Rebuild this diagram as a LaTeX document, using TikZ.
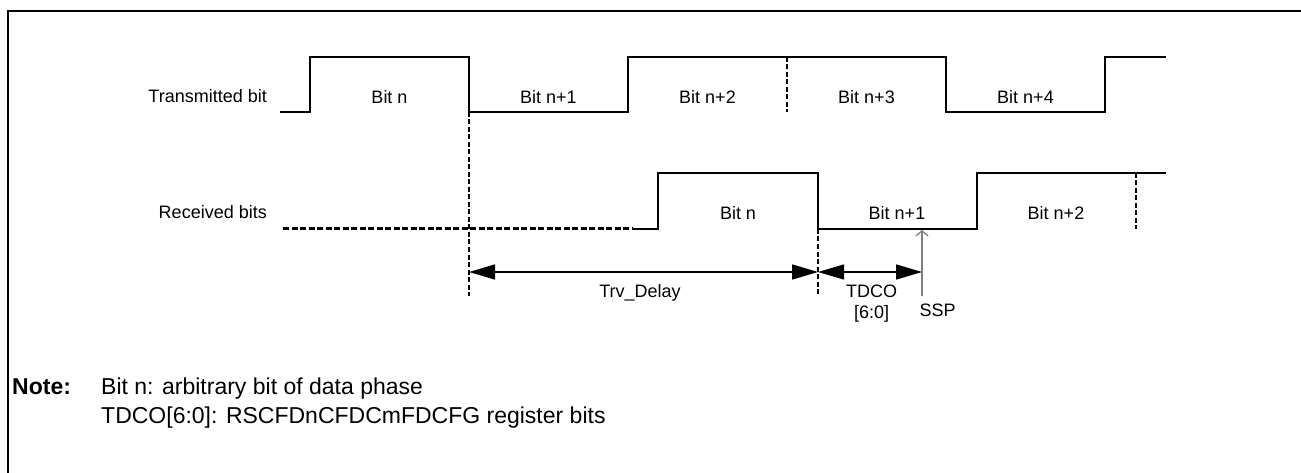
\documentclass[tikz,border=0pt]{standalone}
\usepackage{fontspec}
\setmainfont{Liberation Sans}
\usetikzlibrary{arrows.meta}
\begin{document}
\begin{tikzpicture}[x=1pt,y=-1pt,
  sig/.style={line width=2pt, line join=miter},
  dshv/.style={line width=1.8pt, dash pattern=on 5pt off 2.5pt},
  dshh/.style={line width=3pt, dash pattern=on 6pt off 2.5pt},
  lbl/.style={inner sep=0pt, font=\fontsize{18}{21}\selectfont, anchor=base},
  notetxt/.style={inner sep=0pt, font=\fontsize{23}{27}\selectfont, anchor=base west},
  dimarrow/.style={line width=1.5pt, {Triangle[length=26pt,width=15pt]}-{Triangle[length=26pt,width=15pt]}},
  ssparrow/.style={line width=1.3pt, draw=black!50, -{Straight Barb[length=5pt,width=12pt]}},
  frameline/.style={line width=2.7pt}]
\useasboundingbox (0,0) rectangle (1301,473);
% frame
\draw[frameline] (8,480) -- (8,11) -- (1310,11);
% key coordinates
\coordinate (tA) at (469,112);
\coordinate (tA2) at (469,296);
\coordinate (rB) at (818,229);
\coordinate (rB2) at (818,296);
\coordinate (dL) at (469,272);
\coordinate (dM) at (818,272);
\coordinate (dR) at (922,272);
\coordinate (sspBot) at (922,296);
\coordinate (sspTop) at (922,230);
% transmitted waveform
\draw[sig] (280,112) -| (310,57) -| (tA) -| (628,57) -| (946,112) -| (1105,57) -- (1166,57);
\draw[dshv] (787,57) -- (787,112);
% received waveform
\draw[dshh] (283,229) -- (633,229);
\draw[sig] (633,229) -| (658,173) -| (rB) -| (977,173) -- (1166,173);
\draw[dshv] (1136,173) -- (1136,229);
% vertical guides
\draw[dshv] (tA) -- (tA2);
\draw[dshv] (rB) -- (rB2);
% dimension arrows
\draw[dimarrow] (dL) -- (dM);
\draw[dimarrow] (dM) -- (dR);
\draw[ssparrow] (sspBot) -- (sspTop);
% row labels
\node[lbl, anchor=base east] (ltx) at (267,103) {Transmitted bit};
\node[lbl, anchor=base east] (lrx) at (267,218.5) {Received bits};
% transmitted bit labels
\node[lbl] (t0) at (389.5,103.3) {Bit n};
\node[lbl] (t1) at (548.5,103.3) {Bit n+1};
\node[lbl] (t2) at (707.5,103.3) {Bit n+2};
\node[lbl] (t3) at (866.5,103.3) {Bit n+3};
\node[lbl] (t4) at (1025.5,103.3) {Bit n+4};
% received bit labels
\node[lbl] (r0) at (738,219) {Bit n};
\node[lbl] (r1) at (897,219) {Bit n+1};
\node[lbl] (r2) at (1056,219) {Bit n+2};
% dimension labels
\node[lbl] (trv) at (640,297) {Trv\_Delay};
\node[lbl] (tdco) at (871.7,297) {TDCO};
\node[lbl] (tdcob) at (871.7,318.5) {[6:0]};
\node[lbl] (ssp) at (937.5,316.7) {SSP};
% note
\node[notetxt] (note) at (12,394) {\textbf{Note:}};
\node[notetxt] (note1) at (101,394) {Bit n: arbitrary bit of data phase};
\node[notetxt] (note2) at (101,423) {TDCO[6:0]: RSCFDnCFDCmFDCFG register bits};
\end{tikzpicture}
\end{document}
